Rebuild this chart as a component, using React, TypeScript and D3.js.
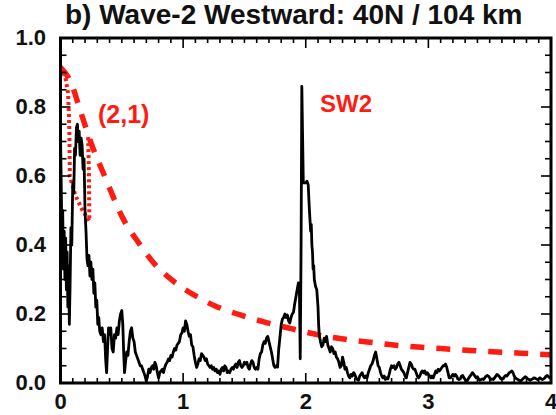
import React from "react";
import * as d3 from "d3";

// Axis tick values and labels
const xTickValues = [0, 1, 2, 3, 4];
const yTickValues = [0, 0.2, 0.4, 0.6, 0.8, 1.0];
const yTickLabels = ["0.0", "0.2", "0.4", "0.6", "0.8", "1.0"];

// Red-noise significance level [frequency (cpd), amplitude]
const redNoise: [number, number][] = [
  [0.0, 0.915], [0.08, 0.875], [0.17, 0.78], [0.255, 0.69], [0.35, 0.608],
  [0.52, 0.47], [0.64, 0.405], [0.75, 0.352], [0.91, 0.298], [1.08, 0.257],
  [1.27, 0.222], [1.46, 0.198], [1.68, 0.175], [1.9, 0.156], [2.12, 0.138],
  [2.34, 0.126], [2.55, 0.117], [2.75, 0.109], [2.96, 0.103], [3.18, 0.098],
  [3.4, 0.093], [3.61, 0.089], [3.83, 0.085], [4.0, 0.082],
];

// (2,1) mode significance outline
const mode21: [number, number][] = [
  [0.0, 0.915], [0.04, 0.885], [0.062, 0.84], [0.072, 0.74], [0.076, 0.6],
  [0.12, 0.545], [0.18, 0.5], [0.235, 0.47], [0.232, 0.6], [0.225, 0.72],
];

// Wave-2 westward amplitude spectrum [frequency (cpd), normalized amplitude]
const spectrum: [number, number][] = [
  [0.0, 0.72], [0.005, 0.6], [0.012, 0.42], [0.018, 0.5], [0.024, 0.33], [0.03, 0.44],
  [0.036, 0.3], [0.042, 0.42], [0.048, 0.27], [0.054, 0.38], [0.06, 0.22], [0.066, 0.34],
  [0.072, 0.17], [0.078, 0.28], [0.085, 0.45], [0.092, 0.4], [0.1, 0.58], [0.108, 0.55],
  [0.115, 0.68], [0.122, 0.66], [0.13, 0.74], [0.138, 0.75], [0.145, 0.7], [0.152, 0.73],
  [0.16, 0.66], [0.168, 0.71], [0.176, 0.69], [0.184, 0.62], [0.192, 0.65], [0.2, 0.5],
  [0.208, 0.44], [0.216, 0.36], [0.224, 0.34], [0.232, 0.37], [0.24, 0.31], [0.248, 0.35],
  [0.256, 0.3], [0.264, 0.33], [0.272, 0.26], [0.28, 0.29], [0.288, 0.22], [0.296, 0.24],
  [0.304, 0.17], [0.312, 0.19], [0.32, 0.15], [0.33, 0.14], [0.34, 0.16], [0.35, 0.12],
  [0.36, 0.14], [0.368, 0.07], [0.376, 0.03], [0.384, 0.1], [0.392, 0.16], [0.4, 0.14],
  [0.41, 0.16], [0.42, 0.1], [0.43, 0.09], [0.44, 0.14], [0.45, 0.13], [0.46, 0.16],
  [0.47, 0.14], [0.48, 0.18], [0.49, 0.2], [0.5, 0.21], [0.508, 0.17], [0.515, 0.09],
  [0.522, 0.03], [0.53, 0.06], [0.54, 0.09], [0.55, 0.08], [0.56, 0.12], [0.57, 0.15],
  [0.58, 0.16], [0.59, 0.13], [0.6, 0.12], [0.61, 0.09], [0.62, 0.08], [0.63, 0.07],
  [0.64, 0.06], [0.65, 0.05], [0.66, 0.05], [0.67, 0.04], [0.68, 0.03], [0.69, 0.02],
  [0.7, 0.005], [0.71, 0.02], [0.72, 0.04], [0.73, 0.03], [0.74, 0.045], [0.75, 0.05],
  [0.76, 0.04], [0.77, 0.06], [0.78, 0.05], [0.79, 0.03], [0.8, 0.015], [0.81, 0.03],
  [0.82, 0.035], [0.83, 0.04], [0.84, 0.03], [0.85, 0.045], [0.86, 0.055], [0.87, 0.06],
  [0.88, 0.07], [0.89, 0.065], [0.9, 0.08], [0.91, 0.075], [0.92, 0.09], [0.93, 0.1],
  [0.94, 0.095], [0.95, 0.11], [0.96, 0.115], [0.97, 0.12], [0.98, 0.14], [0.99, 0.145],
  [1.0, 0.16], [1.01, 0.15], [1.02, 0.18], [1.03, 0.17], [1.04, 0.15], [1.05, 0.135],
  [1.06, 0.14], [1.07, 0.11], [1.08, 0.105], [1.09, 0.08], [1.1, 0.06], [1.11, 0.045],
  [1.12, 0.055], [1.13, 0.07], [1.14, 0.065], [1.15, 0.085], [1.16, 0.08], [1.17, 0.075],
  [1.18, 0.065], [1.19, 0.07], [1.2, 0.055], [1.21, 0.05], [1.22, 0.045], [1.23, 0.05],
  [1.24, 0.04], [1.25, 0.045], [1.26, 0.035], [1.27, 0.04], [1.28, 0.03], [1.29, 0.035],
  [1.3, 0.025], [1.31, 0.04], [1.32, 0.045], [1.33, 0.035], [1.34, 0.05], [1.35, 0.045],
  [1.36, 0.03], [1.37, 0.035], [1.38, 0.03], [1.39, 0.04], [1.4, 0.045], [1.41, 0.04],
  [1.42, 0.05], [1.43, 0.055], [1.44, 0.045], [1.45, 0.06], [1.46, 0.065], [1.47, 0.05],
  [1.48, 0.045], [1.49, 0.05], [1.5, 0.06], [1.51, 0.055], [1.52, 0.06], [1.53, 0.045],
  [1.54, 0.04], [1.55, 0.055], [1.56, 0.065], [1.57, 0.06], [1.58, 0.045], [1.59, 0.04],
  [1.6, 0.045], [1.61, 0.04], [1.62, 0.07], [1.63, 0.085], [1.64, 0.09], [1.65, 0.11],
  [1.66, 0.12], [1.67, 0.115], [1.68, 0.13], [1.69, 0.135], [1.7, 0.12], [1.71, 0.105],
  [1.72, 0.09], [1.73, 0.07], [1.74, 0.05], [1.75, 0.045], [1.76, 0.05], [1.77, 0.046],
  [1.78, 0.1], [1.79, 0.134], [1.8, 0.17], [1.81, 0.185], [1.82, 0.19], [1.83, 0.2],
  [1.84, 0.19], [1.85, 0.197], [1.86, 0.18], [1.87, 0.174], [1.88, 0.19], [1.89, 0.2],
  [1.9, 0.205], [1.91, 0.23], [1.92, 0.25], [1.93, 0.27], [1.94, 0.29], [1.948, 0.28],
  [1.955, 0.07], [1.962, 0.4], [1.968, 0.86], [1.974, 0.72], [1.98, 0.58], [1.99, 0.58],
  [2.0, 0.58], [2.01, 0.585], [2.02, 0.575], [2.03, 0.5], [2.04, 0.44], [2.045, 0.46],
  [2.05, 0.4], [2.055, 0.38], [2.06, 0.33], [2.065, 0.34], [2.07, 0.3], [2.08, 0.28],
  [2.09, 0.27], [2.1, 0.22], [2.105, 0.17], [2.11, 0.14], [2.12, 0.12], [2.13, 0.105],
  [2.14, 0.11], [2.15, 0.13], [2.16, 0.12], [2.17, 0.135], [2.18, 0.11], [2.19, 0.1],
  [2.2, 0.09], [2.21, 0.105], [2.22, 0.1], [2.23, 0.085], [2.24, 0.09], [2.25, 0.075],
  [2.26, 0.07], [2.27, 0.06], [2.28, 0.045], [2.29, 0.05], [2.3, 0.075], [2.31, 0.06],
  [2.32, 0.04], [2.33, 0.045], [2.34, 0.03], [2.35, 0.02], [2.36, 0.015], [2.37, 0.025],
  [2.38, 0.02], [2.39, 0.03], [2.4, 0.025], [2.41, 0.015], [2.42, 0.01], [2.43, 0.008],
  [2.44, 0.02], [2.45, 0.025], [2.46, 0.03], [2.47, 0.02], [2.48, 0.015], [2.49, 0.02],
  [2.5, 0.015], [2.51, 0.03], [2.52, 0.04], [2.53, 0.05], [2.54, 0.055], [2.55, 0.065],
  [2.56, 0.08], [2.57, 0.09], [2.58, 0.07], [2.59, 0.05], [2.6, 0.045], [2.61, 0.03],
  [2.62, 0.02], [2.63, 0.015], [2.64, 0.02], [2.65, 0.01], [2.66, 0.015], [2.67, 0.012],
  [2.68, 0.025], [2.69, 0.04], [2.7, 0.05], [2.71, 0.045], [2.72, 0.05], [2.73, 0.04],
  [2.74, 0.045], [2.75, 0.055], [2.76, 0.06], [2.77, 0.05], [2.78, 0.04], [2.79, 0.035],
  [2.8, 0.03], [2.81, 0.02], [2.82, 0.015], [2.83, 0.03], [2.84, 0.045], [2.85, 0.06],
  [2.86, 0.055], [2.87, 0.045], [2.88, 0.04], [2.89, 0.04], [2.9, 0.03], [2.91, 0.02],
  [2.92, 0.015], [2.93, 0.02], [2.94, 0.03], [2.95, 0.035], [2.96, 0.03], [2.97, 0.035],
  [2.98, 0.025], [2.99, 0.03], [3.0, 0.025], [3.01, 0.02], [3.02, 0.015], [3.03, 0.02],
  [3.04, 0.015], [3.05, 0.025], [3.06, 0.035], [3.07, 0.03], [3.08, 0.04], [3.09, 0.035],
  [3.1, 0.04], [3.11, 0.045], [3.12, 0.05], [3.13, 0.05], [3.14, 0.055], [3.15, 0.045],
  [3.16, 0.03], [3.17, 0.015], [3.18, 0.015], [3.19, 0.02], [3.2, 0.025], [3.21, 0.02],
  [3.22, 0.025], [3.23, 0.02], [3.24, 0.012], [3.25, 0.01], [3.26, 0.012], [3.27, 0.02],
  [3.28, 0.022], [3.29, 0.015], [3.3, 0.01], [3.31, 0.005], [3.32, 0.008], [3.33, 0.015],
  [3.34, 0.02], [3.35, 0.025], [3.36, 0.03], [3.37, 0.025], [3.38, 0.02], [3.39, 0.015],
  [3.4, 0.018], [3.41, 0.012], [3.42, 0.008], [3.43, 0.01], [3.44, 0.012], [3.45, 0.01],
  [3.46, 0.015], [3.47, 0.02], [3.48, 0.022], [3.49, 0.02], [3.5, 0.015], [3.51, 0.01],
  [3.52, 0.012], [3.53, 0.01], [3.54, 0.015], [3.55, 0.02], [3.56, 0.025], [3.57, 0.022],
  [3.58, 0.018], [3.59, 0.012], [3.6, 0.014], [3.61, 0.012], [3.62, 0.018], [3.63, 0.022],
  [3.64, 0.02], [3.65, 0.025], [3.66, 0.03], [3.67, 0.032], [3.68, 0.035], [3.69, 0.03],
  [3.7, 0.02], [3.71, 0.015], [3.72, 0.012], [3.73, 0.01], [3.74, 0.008], [3.75, 0.006],
  [3.76, 0.008], [3.77, 0.012], [3.78, 0.015], [3.79, 0.018], [3.8, 0.016], [3.81, 0.012],
  [3.82, 0.01], [3.83, 0.008], [3.84, 0.01], [3.85, 0.012], [3.86, 0.015], [3.87, 0.014],
  [3.88, 0.012], [3.89, 0.01], [3.9, 0.012], [3.91, 0.015], [3.92, 0.012], [3.93, 0.01],
  [3.94, 0.012], [3.95, 0.015], [3.96, 0.02], [3.97, 0.022], [3.98, 0.018], [3.99, 0.015],
  [4.0, 0.016],
];

const W = 556;
const H = 415;
const left = 60.5;
const right = 551;
const top = 38;
const bottom = 383;
const FONT = "'Liberation Sans', Arial, Helvetica, sans-serif";
const RED = "#ff1a12";

export default function App() {
  const x = d3.scaleLinear().domain([0, 4]).range([left, right]);
  const y = d3.scaleLinear().domain([0, 1]).range([bottom, top]);

  const spectrumLine = d3
    .line<[number, number]>()
    .x((d) => x(d[0]))
    .y((d) => y(d[1]));
  const smoothLine = d3
    .line<[number, number]>()
    .x((d) => x(d[0]))
    .y((d) => y(d[1]))
    .curve(d3.curveMonotoneX);
  const straightLine = d3
    .line<[number, number]>()
    .x((d) => x(d[0]))
    .y((d) => y(d[1]));

  const xMinor = d3.range(0, 41).map((i) => i / 10);
  const yMinor = d3.range(0, 21).map((i) => i / 20);

  return (
    <svg
      width={W}
      height={H}
      style={{ position: "absolute", left: 0, top: 0, background: "#fff" }}
      fontFamily={FONT}
    >
      <defs>
        <clipPath id="plotArea">
          <rect x={left} y={top} width={right - left} height={bottom - top} />
        </clipPath>
      </defs>

      <text x={65} y={24} fontSize={28} fontWeight="bold" fill="#111">
        b) Wave-2 Westward: 40N / 104 km
      </text>

      <g clipPath="url(#plotArea)">
        <path
          d={smoothLine(redNoise) ?? ""}
          fill="none"
          stroke={RED}
          strokeWidth={5.5}
          strokeDasharray="14,12"
        />
        <path
          d={straightLine(mode21) ?? ""}
          fill="none"
          stroke={RED}
          strokeWidth={4}
          strokeDasharray="3,3"
        />
        <path
          d={spectrumLine(spectrum) ?? ""}
          fill="none"
          stroke="#000"
          strokeWidth={2.8}
          strokeLinejoin="round"
        />
      </g>

      {/* ticks on all four sides, pointing inward */}
      <g stroke="#000" strokeWidth={1.6}>
        {xMinor.map((v) => {
          const len = Number.isInteger(v) ? 10 : 5;
          return (
            <g key={"xt" + v}>
              <line x1={x(v)} x2={x(v)} y1={bottom} y2={bottom - len} />
              <line x1={x(v)} x2={x(v)} y1={top} y2={top + len} />
            </g>
          );
        })}
        {yMinor.map((v, i) => {
          const len = i % 4 === 0 ? 10 : 6;
          return (
            <g key={"yt" + i}>
              <line x1={left} x2={left + len} y1={y(v)} y2={y(v)} />
              <line x1={right} x2={right - len} y1={y(v)} y2={y(v)} />
            </g>
          );
        })}
      </g>

      <rect
        x={left}
        y={top}
        width={right - left}
        height={bottom - top}
        fill="none"
        stroke="#000"
        strokeWidth={3}
      />

      {yTickValues.map((v, i) => (
        <text
          key={"yl" + i}
          x={46}
          y={y(v) + 7}
          textAnchor="end"
          fontSize={22}
          fontWeight="bold"
          fill="#111"
        >
          {yTickLabels[i]}
        </text>
      ))}
      {xTickValues.map((v) => (
        <text
          key={"xl" + v}
          x={x(v)}
          y={409}
          textAnchor="middle"
          fontSize={22}
          fontWeight="bold"
          fill="#111"
        >
          {v}
        </text>
      ))}

      <text x={98} y={123} fontSize={25} fontWeight="bold" fill={RED}>
        (2,1)
      </text>
      <text x={320} y={112} fontSize={24} fontWeight="bold" fill={RED}>
        SW2
      </text>
    </svg>
  );
}
